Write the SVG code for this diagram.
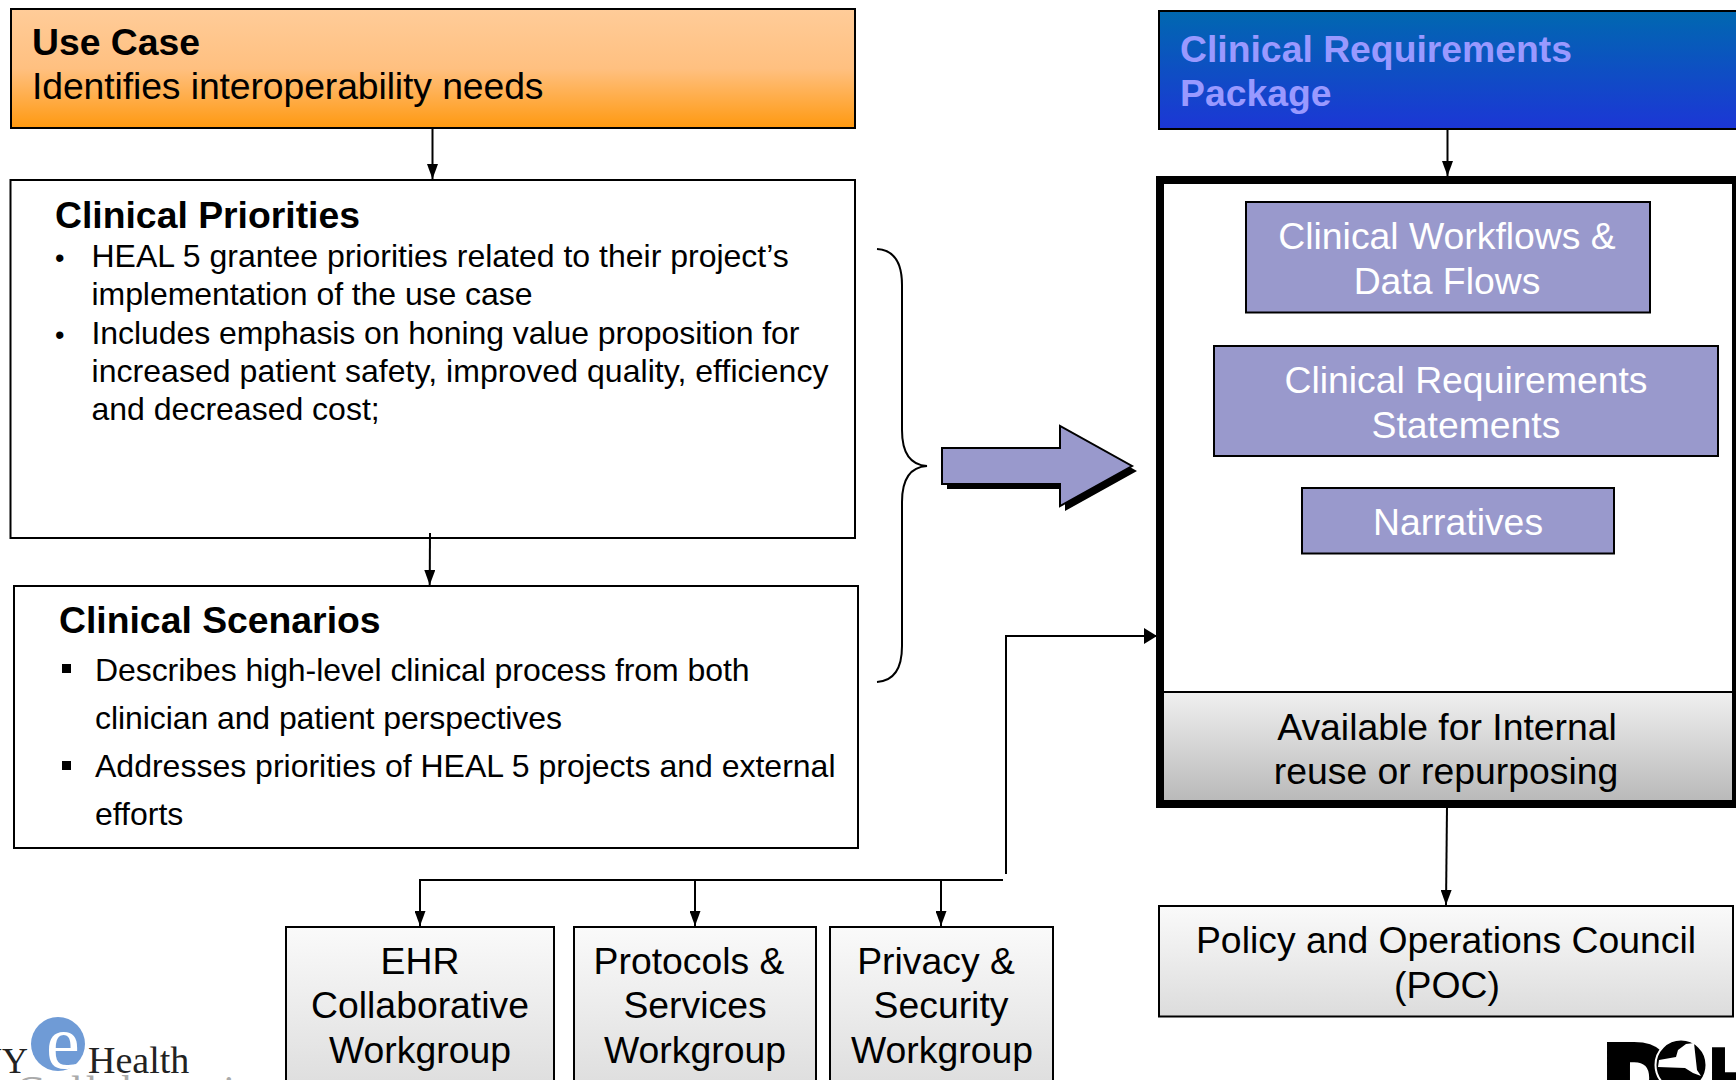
<svg xmlns="http://www.w3.org/2000/svg" width="1736" height="1080" viewBox="0 0 1736 1080">
<style>
text{font-family:"Liberation Sans",Arial,sans-serif;fill:#000}
.box{stroke:#000;stroke-width:2}
.t36{font-size:37.330px}
.b{font-size:37.330px;font-weight:bold}
.p{font-size:32px}
.s{font-size:32px}
.m{font-size:37.330px;text-anchor:middle}
.pur{fill:#9999cc;stroke:#000;stroke-width:2}
.con{fill:none;stroke:#000;stroke-width:2}
</style>
<defs>
<linearGradient id="orange" x1="0" y1="0" x2="0" y2="1"><stop offset="0" stop-color="#ffcc99"/><stop offset=".5" stop-color="#ffc080"/><stop offset="1" stop-color="#ff9910"/></linearGradient>
<linearGradient id="blue" x1="0" y1="0" x2="0" y2="1"><stop offset="0" stop-color="#0068b0"/><stop offset="1" stop-color="#1c36d6"/></linearGradient>
<linearGradient id="gray" x1="0" y1="0" x2="0" y2="1"><stop offset="0" stop-color="#f0f0f0"/><stop offset="1" stop-color="#b8b8b8"/></linearGradient>
<linearGradient id="light" x1="0" y1="0" x2="0" y2="1"><stop offset="0" stop-color="#fafafa"/><stop offset="1" stop-color="#dcdcdc"/></linearGradient>
<marker id="ah" markerUnits="userSpaceOnUse" markerWidth="15" markerHeight="11" refX="15" refY="5.500" orient="auto"><path d="M0 0L15 5.500L0 11Z" fill="#000"/></marker>
<marker id="ah2" markerUnits="userSpaceOnUse" markerWidth="13" markerHeight="16" refX="13" refY="8" orient="auto"><path d="M0 0L13 8L0 16Z" fill="#000"/></marker>
</defs>
<rect width="1736" height="1080" fill="#fff"/>

<g id="use-case">
<rect class="box" x="11" y="9" width="844" height="119" fill="url(#orange)"/>
<text class="b" x="32" y="55">Use Case</text>
<text class="t36" x="32" y="99" textLength="511.500">Identifies interoperability needs</text>
</g>

<g id="clinical-priorities">
<rect class="box" x="10.500" y="180" width="844.500" height="358" fill="#fff"/>
<text class="b" x="55" y="228">Clinical Priorities</text>
<text x="55" y="267" font-size="27">•</text>
<text class="p" x="91.500" y="267">HEAL 5 grantee priorities related to their project’s</text>
<text class="p" x="91.500" y="305" textLength="441">implementation of the use case</text>
<text x="55" y="344" font-size="27">•</text>
<text class="p" x="91.500" y="344" textLength="708">Includes emphasis on honing value proposition for</text>
<text class="p" x="91.500" y="382" textLength="737">increased patient safety, improved quality, efficiency</text>
<text class="p" x="91.500" y="420">and decreased cost;</text>
</g>

<g id="clinical-scenarios">
<rect class="box" x="14" y="586" width="844" height="262" fill="#fff"/>
<text class="b" x="59" y="633">Clinical Scenarios</text>
<rect x="62" y="664" width="9" height="9"/>
<text class="s" x="95" y="681" textLength="654.500">Describes high-level clinical process from both</text>
<text class="s" x="95" y="729" textLength="467">clinician and patient perspectives</text>
<rect x="62" y="761" width="9" height="9"/>
<text class="s" x="95" y="777">Addresses priorities of HEAL 5 projects and external</text>
<text class="s" x="95" y="825">efforts</text>
</g>

<g id="brace">
<path class="con" d="M877 249C893 250 902 262 902 285V430C902 452 910 465 927 466C910 467 902 480 902 502V646C902 670 893 681 877 682"/>
</g>

<g id="big-arrow">
<path d="M947 453H1065V431L1137 471L1065 511V489H947Z" fill="#000"/>
<path d="M942 448H1060V426L1132 466L1060 506V484H942Z" fill="#9999cc" stroke="#000" stroke-width="2"/>
</g>

<g id="clinical-requirements-package">
<rect class="box" x="1159" y="11" width="580" height="118" fill="url(#blue)"/>
<text class="b" x="1180" y="62" style="fill:#9999ff">Clinical Requirements</text>
<text class="b" x="1180" y="106" style="fill:#9999ff">Package</text>
</g>

<g id="requirements-container">
<rect x="1160" y="692" width="576" height="112" fill="url(#gray)"/>
<path d="M1160 692H1736" stroke="#000" stroke-width="2"/>
<rect x="1160" y="180" width="576" height="624" fill="none" stroke="#000" stroke-width="8"/>
<text class="m" x="1447" y="740">Available for Internal</text>
<text class="m" x="1446" y="784">reuse or repurposing</text>
</g>

<g id="clinical-workflows">
<rect class="pur" x="1246" y="202" width="404" height="110.500"/>
<text class="m" x="1447" y="249" style="fill:#fff">Clinical Workflows &amp;</text>
<text class="m" x="1447" y="294" style="fill:#fff">Data Flows</text>
</g>
<g id="clinical-requirements-statements">
<rect class="pur" x="1214" y="346" width="504" height="110"/>
<text class="m" x="1466" y="393" style="fill:#fff">Clinical Requirements</text>
<text class="m" x="1466" y="438" style="fill:#fff">Statements</text>
</g>
<g id="narratives">
<rect class="pur" x="1302" y="488" width="312" height="65.500"/>
<text class="m" x="1458" y="535" style="fill:#fff">Narratives</text>
</g>

<g id="poc">
<rect class="box" x="1159" y="906" width="574" height="110.500" fill="url(#light)"/>
<text class="m" x="1446" y="953">Policy and Operations Council</text>
<text class="m" x="1447" y="998">(POC)</text>
</g>

<g id="ehr-workgroup">
<rect class="box" x="286" y="927" width="268" height="170" fill="url(#light)"/>
<text class="m" x="420" y="974">EHR</text>
<text class="m" x="420" y="1018">Collaborative</text>
<text class="m" x="420" y="1063">Workgroup</text>
</g>
<g id="protocols-workgroup">
<rect class="box" x="574" y="927" width="242" height="170" fill="url(#light)"/>
<text class="m" x="689" y="974">Protocols &amp;</text>
<text class="m" x="695" y="1018">Services</text>
<text class="m" x="695" y="1063">Workgroup</text>
</g>
<g id="privacy-workgroup">
<rect class="box" x="830" y="927" width="223" height="170" fill="url(#light)"/>
<text class="m" x="936" y="974">Privacy &amp;</text>
<text class="m" x="941" y="1018">Security</text>
<text class="m" x="942" y="1063">Workgroup</text>
</g>

<g id="connectors">
<path class="con" marker-end="url(#ah)" d="M432.500 128V179"/>
<path class="con" marker-end="url(#ah)" d="M430 533L429.700 585"/>
<path class="con" marker-end="url(#ah)" d="M1447.500 130V176"/>
<path class="con" marker-end="url(#ah)" d="M1447 806L1446 905"/>
<path class="con" marker-end="url(#ah2)" d="M1006 874V636H1157"/>
<path class="con" marker-end="url(#ah)" d="M1003 880H420V926"/>
<path class="con" marker-end="url(#ah)" d="M695 880V926"/>
<path class="con" marker-end="url(#ah)" d="M941 880V926"/>
</g>

<g id="ny-ehealth-logo">
<circle cx="58" cy="1044" r="27" fill="#6f9bd6"/>
<text x="46" y="1068" font-size="76" style="fill:#fff;font-family:'Liberation Serif',serif">e</text>
<text x="28" y="1073" font-size="36" text-anchor="end" style="fill:#222;font-family:'Liberation Serif',serif">NY</text>
<text x="88" y="1073" font-size="38" style="fill:#222;font-family:'Liberation Serif',serif">Health</text>
<text x="16" y="1105" font-size="42" letter-spacing="3" style="fill:#aaa;font-family:'Liberation Serif',serif">Collaborative</text>
</g>

<g id="doh-logo">
<text x="1606" y="1110" font-size="90" font-weight="bold" stroke="#000" stroke-width="10">D</text>
<circle cx="1681" cy="1065" r="25.500" fill="#000" stroke="#fff" stroke-width="2"/>
<path d="M1659 1060L1676 1057L1678 1050L1686 1044L1694 1043L1697 1070L1701 1076L1693 1073L1685 1068L1658 1067Z" fill="#fff"/>
<text x="1706" y="1110" font-size="90" font-weight="bold">H</text>
</g>
</svg>
